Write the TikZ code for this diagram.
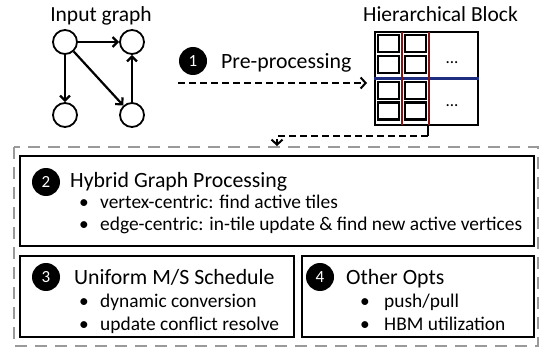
\documentclass[tikz,border=0pt]{standalone}
\usepackage{fontspec}
\setmainfont{Carlito}
\usetikzlibrary{arrows.meta}
\definecolor{tilered}{HTML}{861414}
\definecolor{tileblue}{HTML}{1F2D80}
\definecolor{framegray}{HTML}{9A9A9A}
\begin{document}
\begin{tikzpicture}[x=1pt,y=-1pt,
  vertex/.style={circle,draw,line width=1.8pt,minimum size=24pt,inner sep=0pt},
  edge/.style={line width=2.2pt,-{Straight Barb[length=5pt,width=10pt]}},
  flow/.style={line width=2pt,dash pattern=on 7pt off 4pt,-{Straight Barb[length=5pt,width=11pt]}},
  numdot/.style={circle,fill=black,minimum size=28pt,inner sep=0pt,text=white,font=\fontsize{17}{17}\selectfont},
  label/.style={anchor=base,inner sep=0pt,font=\fontsize{21.5}{24}\selectfont},
  title/.style={anchor=base west,inner sep=0pt,font=\fontsize{21.8}{24}\selectfont},
  item/.style={anchor=base west,inner sep=0pt,font=\fontsize{19.4}{22}\selectfont},
  panel/.style={draw,line width=1.6pt},
  tile/.style={draw,line width=2.2pt,minimum width=21pt,minimum height=17pt,inner sep=0pt},
]
\useasboundingbox (0,0) rectangle (541,350);

% input graph
\node[label] (lin) at (101,21.7) {Input graph};
\node[vertex] (a) at (65,42) {};
\node[vertex] (b) at (132,42) {};
\node[vertex] (c) at (65,115) {};
\node[vertex] (d) at (132,115) {};
\draw[edge] (a) -- (b);
\draw[edge] (a) -- (c);
\draw[edge] (a) -- (d);
\draw[edge] (d) -- (b);

% pre-processing step
\node[numdot] (n1) at (193,61) {1};
\node[title] (pre) at (221,68.5) {Pre-processing};
\coordinate (pstart) at (178,83);
\coordinate (pend) at (367,83);
\draw[flow] (pstart) -- (pend);

% hierarchical block
\node[label] (lhb) at (440.5,21.7) {Hierarchical Block};
\foreach \cx/\cn in {388.5/p,415.5/q}
  \foreach \cy/\rn in {43.5/1,64.5/2,90.5/3,111/4}
    \node[tile] (t\cn\rn) at (\cx,\cy) {};
\node[draw,line width=2pt,minimum width=103pt,minimum height=93pt,inner sep=0pt] (blk) at (426.5,78.5) {};
\draw[tileblue,line width=2.4pt] (blk.west) -- (blk.east);
\draw[tilered,line width=2.6pt] (402,32) -- (402,125);
\draw[tilered,line width=2.6pt] (429,32) -- (429,125);
\node[anchor=base,inner sep=0pt,font=\fontsize{17}{17}\selectfont] (dots1) at (452,64) {...};
\node[anchor=base,inner sep=0pt,font=\fontsize{17}{17}\selectfont] (dots2) at (452,107) {...};

% hand-off to the processing stage
\coordinate (drop) at (428,125);
\coordinate (bend) at (428,136);
\coordinate (entry) at (277,146);
\draw[line width=2pt] (drop) -- (bend);
\draw[flow] (bend) -| (entry);

% processing stage
\draw[framegray,line width=2pt,dash pattern=on 12pt off 8pt] (14,147) rectangle (538,346);
\node[panel,minimum width=514pt,minimum height=90pt,inner sep=0pt] (p2) at (277,201) {};
\node[panel,minimum width=274pt,minimum height=81pt,inner sep=0pt] (p3) at (157,296.5) {};
\node[panel,minimum width=232pt,minimum height=81pt,inner sep=0pt] (p4) at (418,296.5) {};

\node[numdot] (n2) at (46,182) {2};
\node[title] (h2) at (70,188) {Hybrid Graph Processing};
\node[item] (b21) at (79,208) {•};
\node[item] (i21) at (100,208) {vertex-centric: find active tiles};
\node[item] (b22) at (79,230) {•};
\node[item] (i22) at (100,230) {edge-centric: in-tile update \& find new active vertices};

\node[numdot] (n3) at (46,277) {3};
\node[title] (h3) at (74,284) {Uniform M/S Schedule};
\node[item] (b31) at (79,307) {•};
\node[item] (i31) at (100,307) {dynamic conversion};
\node[item] (b32) at (79,330) {•};
\node[item] (i32) at (100,330) {update conflict resolve};

\node[numdot] (n4) at (320,277) {4};
\node[title] (h4) at (346,284) {Other Opts};
\node[item] (b41) at (360,307) {•};
\node[item] (i41) at (384,307) {push/pull};
\node[item] (b42) at (360,330) {•};
\node[item] (i42) at (384,330) {HBM utilization};
\end{tikzpicture}
\end{document}
